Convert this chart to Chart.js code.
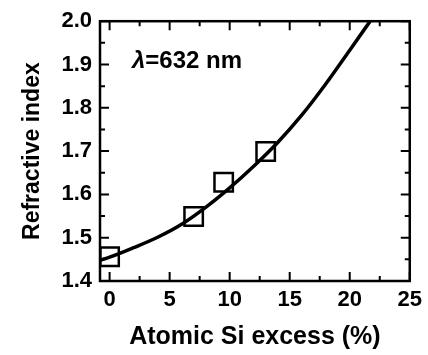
<!DOCTYPE html>
<html>
<head>
<meta charset="utf-8">
<script src="https://cdn.jsdelivr.net/npm/chart.js@4"></script>
<style>
  html, body { margin: 0; padding: 0; background: #fff; }
  #wrap { width: 428px; height: 355px; }
</style>
</head>
<body>
<div id="wrap"><canvas id="riChart"></canvas></div>
<script>
// measured points
const siExcess = [0, 7, 9.5, 13];
const refIndex = [1.456, 1.549, 1.628, 1.699];

// fitted curve
const fitX = [-0.8, 0, 2, 4, 6, 8, 10, 12, 14, 16, 18, 20, 21.7];
const fitY = [1.448, 1.455, 1.477, 1.501, 1.531, 1.570, 1.615, 1.665, 1.720, 1.783, 1.855, 1.933, 2.0];

const xTicks = [0, 5, 10, 15, 20, 25];
const xMinor = [2.5, 7.5, 12.5, 17.5, 22.5];
const yTicks = [1.4, 1.5, 1.6, 1.7, 1.8, 1.9, 2.0];
const yMinor = [1.45, 1.55, 1.65, 1.75, 1.85, 1.95];

const FONT = 'Liberation Sans, Arial, sans-serif';

// inward ticks on all four sides plus the frame
const frameTicks = {
  id: 'frameTicks',
  afterDraw(chart) {
    const ctx = chart.ctx;
    const a = chart.chartArea;
    const xs = chart.scales.x, ys = chart.scales.y;
    ctx.save();
    ctx.strokeStyle = '#000';
    ctx.lineWidth = 2;
    ctx.beginPath();
    const tickX = (v, len) => {
      const px = xs.getPixelForValue(v);
      ctx.moveTo(px, a.bottom); ctx.lineTo(px, a.bottom - len);
      ctx.moveTo(px, a.top); ctx.lineTo(px, a.top + len);
    };
    const tickY = (v, len) => {
      const py = ys.getPixelForValue(v);
      ctx.moveTo(a.left, py); ctx.lineTo(a.left + len, py);
      ctx.moveTo(a.right, py); ctx.lineTo(a.right - len, py);
    };
    xTicks.forEach(v => tickX(v, 9));
    xMinor.forEach(v => tickX(v, 5));
    yTicks.forEach(v => tickY(v, 9));
    yMinor.forEach(v => tickY(v, 5));
    ctx.stroke();
    ctx.lineWidth = 2.5;
    ctx.strokeRect(a.left, a.top, a.right - a.left, a.bottom - a.top);

    // wavelength label
    ctx.fillStyle = '#000';
    ctx.textBaseline = 'alphabetic';
    ctx.textAlign = 'left';
    const lx = a.left + 32, ly = a.top + 47;
    ctx.font = 'italic bold 24px ' + FONT;
    ctx.fillText('λ', lx, ly);
    const w = ctx.measureText('λ').width;
    ctx.font = 'bold 24px ' + FONT;
    ctx.fillText('=632 nm', lx + w, ly);
    ctx.restore();
  }
};

const config = {
  type: 'scatter',
  data: {
    datasets: [
      {
        label: 'fit',
        type: 'line',
        data: fitX.map((x, i) => ({ x: x, y: fitY[i] })),
        borderColor: '#000',
        borderWidth: 3.5,
        pointRadius: 0,
        fill: false,
        cubicInterpolationMode: 'monotone',
        order: 2,
      },
      {
        label: 'measured',
        data: siExcess.map((x, i) => ({ x: x, y: refIndex[i] })),
        pointStyle: 'rect',
        pointRadius: 13,
        pointBorderWidth: 2.5,
        borderColor: '#000',
        backgroundColor: 'rgba(0,0,0,0)',
        order: 1,
      },
    ],
  },
  options: {
    responsive: true,
    maintainAspectRatio: false,
    animation: false,
    layout: { padding: { left: 0, right: 13, top: 15, bottom: 0 } },
    plugins: {
      legend: { display: false },
      tooltip: { enabled: false },
    },
    scales: {
      x: {
        type: 'linear',
        min: -0.8,
        max: 25,
        grid: { display: false, drawTicks: false },
        border: { display: false },
        afterBuildTicks: s => { s.ticks = xTicks.map(v => ({ value: v })); },
        afterFit: s => { s.height = 74; },
        ticks: {
          color: '#000',
          padding: 6,
          maxRotation: 0,
          font: { family: FONT, size: 22, weight: 'bold' },
          callback: v => String(v),
        },
        title: {
          display: true,
          text: 'Atomic Si excess (%)',
          color: '#000',
          padding: { top: 4, bottom: 3 },
          font: { family: FONT, size: 25, weight: 'bold' },
        },
      },
      y: {
        min: 1.4,
        max: 2.0,
        grid: { display: false, drawTicks: false },
        border: { display: false },
        afterBuildTicks: s => { s.ticks = yTicks.map(v => ({ value: v })); },
        afterFit: s => { s.width = 100; },
        ticks: {
          color: '#000',
          padding: 8,
          font: { family: FONT, size: 22, weight: 'bold' },
          callback: v => Number(v).toFixed(1),
        },
        title: {
          display: true,
          text: 'Refractive index',
          color: '#000',
          padding: { top: 19, bottom: 0 },
          font: { family: FONT, size: 23, weight: 'bold' },
        },
      },
    },
  },
  plugins: [frameTicks],
};

const riChart = new Chart(document.getElementById('riChart'), config);
</script>
</body>
</html>
